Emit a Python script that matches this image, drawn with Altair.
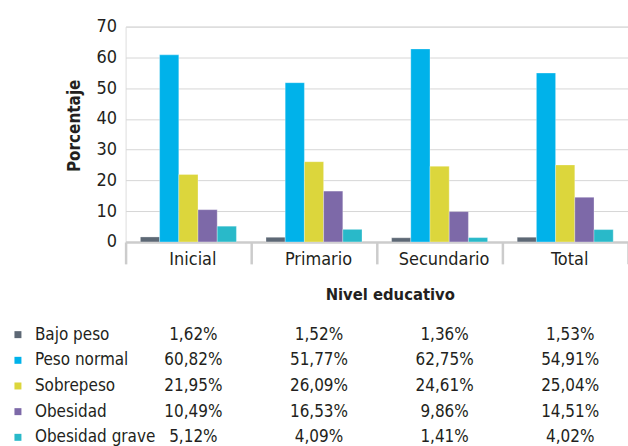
import altair as alt
import pandas as pd

niveles = ["Inicial", "Primario", "Secundario", "Total"]
series = ["Bajo peso", "Peso normal", "Sobrepeso", "Obesidad", "Obesidad grave"]
colores = ["#5d6875", "#00b2ea", "#dcd63c", "#7d69a8", "#29b9c9"]

bajo_peso = [1.62, 1.52, 1.36, 1.53]
peso_normal = [60.82, 51.77, 62.75, 54.91]
sobrepeso = [21.95, 26.09, 24.61, 25.04]
obesidad = [10.49, 16.53, 9.86, 14.51]
obesidad_grave = [5.12, 4.09, 1.41, 4.02]

valores = [bajo_peso, peso_normal, sobrepeso, obesidad, obesidad_grave]

rows = []
for s, vals in zip(series, valores):
    for n, v in zip(niveles, vals):
        rows.append({"Nivel": n, "Serie": s, "Valor": v,
                     "Texto": f"{v:.2f}".replace(".", ",") + "%"})
df = pd.DataFrame(rows)
df_series = pd.DataFrame({"Serie": series})

FONT = "Liberation Sans Narrow, DejaVu Sans Condensed, sans-serif"
TXT = "#231f20"

x_enc = alt.X("Nivel:N", sort=niveles,
              scale=alt.Scale(paddingInner=0, paddingOuter=0),
              axis=alt.Axis(title="Nivel educativo", labelAngle=0,
                            domainColor="#cccccc", domainWidth=2.5,
                            tickColor="#cccccc", tickWidth=2.5, tickSize=22,
                            tickBand="extent", labelPadding=-13, labelOffset=4,
                            labelFontSize=18, labelColor=TXT, labelFont=FONT,
                            titleFont=FONT, titleFontSize=16.5, titleFontWeight="bold",
                            titleColor=TXT, titleX=265, titleY=58,
                            titleBaseline="alphabetic", titleAlign="center"))

bars = alt.Chart(df).mark_bar(stroke="white", strokeWidth=0.6, strokeOpacity=0.5).encode(
    x=x_enc,
    xOffset=alt.XOffset("Serie:N", sort=series,
                        scale=alt.Scale(paddingInner=0, paddingOuter=0.77)),
    y=alt.Y("Valor:Q", scale=alt.Scale(domain=[0, 70], nice=False),
            axis=alt.Axis(title="Porcentaje", values=[0, 10, 20, 30, 40, 50, 60, 70],
                          domain=False, ticks=False, labelPadding=9,
                          labelFontSize=18, labelColor=TXT, labelFont=FONT,
                          gridColor="#d6d6d6", gridWidth=1,
                          titleFont=FONT, titleFontSize=17, titleFontWeight="bold",
                          titleColor=TXT, titleX=-51, titleY=99,
                          titleAlign="center", titleBaseline="middle", titleAngle=-90)),
    color=alt.Color("Serie:N", sort=series,
                    scale=alt.Scale(domain=series, range=colores), legend=None),
)

valores_txt = alt.Chart(df).mark_text(
    align="center", baseline="alphabetic", fontSize=17, font=FONT, color=TXT, dx=5
).encode(
    x=alt.X("Nivel:N", sort=niveles),
    y=alt.Y("Serie:N", sort=series,
            scale=alt.Scale(range=[314, 417], padding=0), axis=None),
    text="Texto:N",
)

etiquetas = alt.Chart(df_series).mark_text(
    align="left", baseline="alphabetic", fontSize=17, font=FONT, color=TXT
).encode(
    x=alt.value(-91),
    y=alt.Y("Serie:N", sort=series,
            scale=alt.Scale(range=[314, 417], padding=0), axis=None),
    text="Serie:N",
)

cuadros = alt.Chart(df_series).mark_square(size=49, opacity=1).encode(
    x=alt.value(-108),
    y=alt.Y("Serie:N", sort=series,
            scale=alt.Scale(range=[309, 412], padding=0), axis=None),
    color=alt.Color("Serie:N", sort=series,
                    scale=alt.Scale(domain=series, range=colores), legend=None),
)

chart = alt.layer(bars, valores_txt, etiquetas, cuadros).resolve_scale(
    y="independent"
).properties(
    width=504, height=216,
    autosize=alt.AutoSizeParams(type="none"),
    padding={"left": 126, "top": 26, "right": 0, "bottom": 204},
).configure_view(stroke=None).configure(background="white")

chart.save("out.html", embed_options={"renderer": "svg", "actions": False})
